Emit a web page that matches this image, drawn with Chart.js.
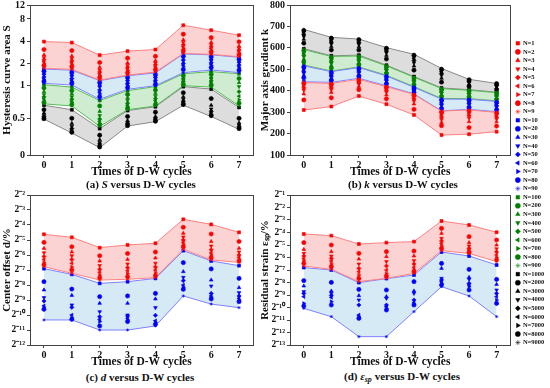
<!DOCTYPE html>
<html><head><meta charset="utf-8">
<script src="https://cdn.jsdelivr.net/npm/chart.js@4.4.0/dist/chart.umd.min.js"></script>
<style>
html,body{margin:0;padding:0;background:#fff;width:550px;height:388px;overflow:hidden;position:relative;font-family:'Liberation Serif','Times New Roman',serif;}
canvas{position:absolute;}
.cap{position:absolute;font-weight:bold;font-size:11px;white-space:nowrap;transform:translate(-50%,-50%);color:#111;line-height:12px}
.cap sub{font-size:8px;font-style:italic;vertical-align:-2px}
</style></head><body>
<canvas id="ca" width="258" height="179" style="left:0;top:0"></canvas>
<canvas id="cb" width="257" height="179" style="left:258px;top:0"></canvas>
<canvas id="cc" width="258" height="179" style="left:0;top:190px"></canvas>
<canvas id="cd" width="257" height="179" style="left:258px;top:190px"></canvas>
<canvas id="cl" width="100" height="320" style="left:514px;top:38px"></canvas>
<div class="cap" style="left:141px;top:184px">(a) <i>S</i> versus D-W cycles</div>
<div class="cap" style="left:403px;top:184px">(b) <i>k</i> versus D-W cycles</div>
<div class="cap" style="left:140px;top:377px">(c) <i>d</i> versus D-W cycles</div>
<div class="cap" style="left:402px;top:378px">(d) <i>ε</i><sub>sp</sub> versus D-W cycles</div>
<script>
// ---------- data ----------
const cycles = [0, 1, 2, 3, 4, 5, 6, 7];
const nLabels = ['N=1','N=2','N=3','N=4','N=5','N=6','N=7','N=8','N=9',
  'N=10','N=20','N=30','N=40','N=50','N=60','N=70','N=80','N=90',
  'N=100','N=200','N=300','N=400','N=500','N=600','N=700','N=800','N=900',
  'N=1000','N=2000','N=3000','N=4000','N=5000','N=6000','N=7000','N=8000','N=9000'];

// (a) hysteresis curve area S  (rows: series in group, columns: cycles 0..7)
const sRed = [
  [3.98,3.86,2.6,2.95,3.1,6.6,5.66,4.85],
  [3.1,3.0,2.06,2.36,2.51,5.0,4.5,3.96],
  [2.62,2.53,1.77,2.03,2.18,4.2,3.88,3.46],
  [2.41,2.33,1.63,1.88,2.03,3.87,3.6,3.23],
  [2.25,2.17,1.53,1.77,1.92,3.6,3.39,3.06],
  [2.13,2.05,1.45,1.68,1.83,3.4,3.2,2.92],
  [2.0,1.93,1.37,1.6,1.74,3.2,3.04,2.78],
  [1.87,1.81,1.29,1.5,1.65,2.99,2.87,2.64],
  [1.72,1.66,1.19,1.39,1.53,2.74,2.66,2.47]];
const sBlue = [
  [1.68,1.62,1.17,1.36,1.49,2.7,2.62,2.43],
  [1.57,1.5,1.09,1.28,1.4,2.5,2.45,2.27],
  [1.47,1.41,1.02,1.2,1.32,2.3,2.3,2.13],
  [1.39,1.33,0.97,1.14,1.25,2.15,2.18,2.02],
  [1.31,1.25,0.91,1.08,1.18,2.0,2.05,1.9],
  [1.26,1.19,0.87,1.04,1.13,1.9,1.96,1.82],
  [1.2,1.14,0.84,1.0,1.09,1.8,1.88,1.74],
  [1.14,1.08,0.79,0.96,1.04,1.65,1.76,1.62],
  [1.075,1.02,0.75,0.925,1.0,1.5,1.63,1.5]];
const sGreen = [
  [1.03,0.97,0.73,0.9,0.98,1.45,1.55,1.45],
  [0.95,0.9,0.65,0.83,0.91,1.36,1.42,1.25],
  [0.88,0.84,0.58,0.77,0.85,1.27,1.31,1.1],
  [0.83,0.79,0.53,0.73,0.8,1.2,1.23,0.98],
  [0.79,0.75,0.49,0.69,0.76,1.15,1.16,0.88],
  [0.76,0.72,0.46,0.66,0.73,1.1,1.1,0.8],
  [0.73,0.7,0.43,0.64,0.7,1.06,1.05,0.74],
  [0.7,0.67,0.41,0.62,0.67,1.03,1.01,0.69],
  [0.68,0.65,0.39,0.6,0.65,1.0,0.97,0.65]];
const sBlack = [
  [0.66,0.6,0.36,0.59,0.64,0.98,0.93,0.63],
  [0.6,0.5,0.27,0.52,0.57,0.86,0.76,0.5],
  [0.56,0.43,0.21,0.47,0.52,0.79,0.66,0.44],
  [0.53,0.39,0.17,0.44,0.5,0.75,0.61,0.41],
  [0.52,0.36,0.15,0.43,0.49,0.72,0.58,0.39],
  [0.51,0.34,0.13,0.42,0.48,0.7,0.56,0.38],
  [0.5,0.32,0.12,0.41,0.47,0.69,0.54,0.37],
  [0.495,0.31,0.11,0.4,0.46,0.67,0.53,0.36],
  [0.49,0.3,0.1,0.395,0.455,0.66,0.52,0.35]];
const sTickVals = [0, 0.5, 1, 2, 4, 8, 12];
const sAxisStops = [0, 1.65, 3.12, 4.12, 5.11, 6.12, 6.75];

// (b) major axis gradient k
const kRed = [
  [310,326,375,337,287,193,197,209],
  [357,367,405,362,313,237,228,235],
  [385,392,420,380,338,252,255,255],
  [402,405,430,393,352,265,272,268],
  [413,414,437,402,362,277,284,277],
  [421,420,442,408,369,286,292,284],
  [428,426,446,413,375,293,299,290],
  [434,430,450,416,379,299,305,295],
  [438,434,453,419,383,305,310,299]];
const kBlue = [
  [442,439,458,423,385,306,313,302],
  [460,449,468,432,391,316,322,311],
  [472,457,476,439,396,324,329,318],
  [481,463,482,445,400,331,335,324],
  [489,469,488,450,404,338,341,330],
  [496,474,493,455,407,344,346,335],
  [503,479,498,460,410,350,351,340],
  [510,484,503,465,413,356,356,345],
  [516,489,508,469,416,361,360,350]];
const kGreen = [
  [520,492,511,472,419,364,363,353],
  [535,506,522,481,428,373,371,360],
  [548,518,530,488,435,381,377,366],
  [558,527,537,494,441,387,382,371],
  [566,535,543,499,446,393,387,376],
  [573,541,548,504,451,398,391,380],
  [580,547,553,508,455,402,395,384],
  [586,554,558,512,459,406,399,388],
  [592,560,562,516,463,410,402,391]];
const kBlack = [
  [596,563,566,519,466,413,405,393],
  [622,590,590,548,496,440,420,405],
  [640,606,605,565,515,458,430,413],
  [652,618,616,577,530,471,437,419],
  [662,627,624,585,542,481,442,424],
  [670,634,630,591,552,489,446,428],
  [676,640,635,595,559,495,449,431],
  [681,645,638,598,565,500,451,433],
  [686,649,641,601,570,504,453,434]];

// (c) center offset d  (log2 exponents)
const dRed = [
  [-4.62,-4.82,-5.51,-5.33,-5.22,-3.62,-3.96,-4.49],
  [-5.16,-5.45,-6.05,-5.9,-5.8,-4.15,-4.6,-5.1],
  [-5.56,-5.8,-6.4,-6.3,-6.2,-4.55,-5.1,-5.55],
  [-5.85,-6.05,-6.7,-6.6,-6.55,-4.8,-5.4,-5.8],
  [-6.1,-6.3,-6.95,-6.85,-6.8,-5.0,-5.65,-6.0],
  [-6.3,-6.55,-7.15,-7.05,-7.0,-5.15,-5.85,-6.15],
  [-6.5,-6.8,-7.35,-7.25,-7.2,-5.3,-6.0,-6.28],
  [-6.65,-7.0,-7.52,-7.45,-7.38,-5.45,-6.18,-6.4],
  [-6.78,-7.22,-7.67,-7.62,-7.51,-5.62,-6.33,-6.49]];
const dBlue = [
  [-6.91,-7.29,-7.89,-7.78,-7.56,-5.71,-6.4,-6.71],
  [-7.78,-8.27,-8.78,-8.73,-8.56,-6.51,-6.93,-7.56],
  [-8.33,-8.69,-9.22,-9.22,-8.93,-7.11,-7.67,-8.18],
  [-8.84,-9.33,-9.78,-10.0,-9.51,-7.49,-8.07,-8.51],
  [-9.07,-9.49,-10.11,-10.07,-10.02,-7.71,-8.56,-8.73],
  [-9.38,-10.0,-10.29,-10.22,-10.38,-8.0,-8.73,-8.89],
  [-9.49,-10.18,-10.44,-10.33,-10.49,-8.16,-8.82,-9.0],
  [-9.62,-10.29,-10.73,-10.44,-10.62,-8.29,-8.93,-9.11],
  [-10.33,-10.33,-11.0,-11.0,-10.73,-8.73,-9.27,-9.51]];

// (d) residual strain eps_sp  (log2 exponents)
const eRed = [
  [-4.12,-4.25,-4.92,-4.81,-4.73,-3.08,-3.4,-3.98],
  [-4.81,-5.0,-5.67,-5.53,-5.48,-3.67,-4.33,-4.6],
  [-5.35,-5.53,-6.12,-5.93,-5.88,-4.07,-4.81,-5.0],
  [-5.67,-5.88,-6.52,-6.33,-6.25,-4.47,-5.08,-5.3],
  [-5.88,-6.07,-6.87,-6.68,-6.52,-4.68,-5.27,-5.55],
  [-6.07,-6.28,-7.13,-7.0,-6.79,-4.87,-5.4,-5.8],
  [-6.25,-6.52,-7.4,-7.27,-7.0,-5.08,-5.51,-6.0],
  [-6.47,-6.73,-7.67,-7.48,-7.13,-5.27,-5.59,-6.18],
  [-6.68,-6.95,-7.93,-7.67,-7.27,-5.45,-5.67,-6.33]];
const eBlue = [
  [-6.81,-7.0,-8.01,-7.69,-7.4,-5.56,-5.88,-6.6],
  [-7.85,-7.99,-8.55,-8.6,-7.93,-6.47,-6.95,-7.75],
  [-8.28,-8.68,-9.05,-9.13,-8.68,-6.87,-7.59,-8.15],
  [-8.73,-8.87,-9.4,-9.27,-8.87,-7.67,-7.75,-8.6],
  [-8.87,-9.03,-9.8,-9.8,-9.4,-7.8,-8.07,-8.87],
  [-9.13,-9.19,-10.6,-9.93,-9.61,-7.93,-8.2,-9.13],
  [-9.67,-9.53,-10.73,-10.07,-9.72,-8.07,-8.33,-9.4],
  [-9.88,-9.8,-10.87,-10.2,-9.8,-8.2,-8.6,-9.67],
  [-10.07,-10.73,-12.33,-12.33,-10.33,-8.33,-9.08,-10.73]];

// ---------- styling ----------
const groupColors = ['#ff0000', '#0000ff', '#008000', '#000000'];
const lineColors = ['#ff8080', '#8080ff', '#55bb55', '#888888'];
const fillColors = ['#fcd3d3', '#d6eaf6', '#d0ecd0', '#dddddd'];
const markerStyles = ['rect','circle','triangle','triangle','rectRot','triangle','triangle','circle','star'];
const markerRot = [0, 0, 0, 180, 0, 270, 90, 0, 0];

Chart.defaults.font.family = "'Liberation Serif','Times New Roman',serif";
Chart.defaults.font.weight = 'bold';
Chart.defaults.color = '#111';

function sToAxis(v) {
  for (let i = 0; i < sTickVals.length - 1; i++) {
    const a = sTickVals[i], b = sTickVals[i + 1];
    if (v <= b || i === sTickVals.length - 2) {
      const t = i === 0 ? (v - a) / (b - a) : (Math.log2(v) - Math.log2(a)) / (Math.log2(b) - Math.log2(a));
      return sAxisStops[i] + t * (sAxisStops[i + 1] - sAxisStops[i]);
    }
  }
}
const ident = v => v;

function groupDatasets(rows, g, toAxis) {
  return rows.map((row, j) => ({
    label: nLabels[g * 9 + j],
    data: row.map((v, i) => ({ x: cycles[i], y: toAxis(v) })),
    showLine: j === 0 || j === 8,
    borderColor: lineColors[g], borderWidth: 1,
    fill: j === 0 ? '+8' : false,
    backgroundColor: fillColors[g],
    pointStyle: markerStyles[j], pointRotation: markerRot[j],
    pointRadius: j === 8 ? 1.6 : 2.1,
    pointBackgroundColor: groupColors[g], pointBorderColor: groupColors[g], pointBorderWidth: 0.6,
    tension: 0
  }));
}

const framePlugin = {
  id: 'frame',
  afterDatasetsDraw(chart) {
    const { ctx, chartArea: a } = chart;
    ctx.save(); ctx.strokeStyle = '#444'; ctx.lineWidth = 1;
    ctx.strokeRect(Math.round(a.left) + 0.5, Math.round(a.top) + 0.5, Math.round(a.right - a.left), Math.round(a.bottom - a.top));
    ctx.restore();
  }
};

// tick labels of the non-uniform S axis, placed through the y scale
const sLabelPlugin = {
  id: 'sLabels',
  afterDraw(chart) {
    const { ctx } = chart, y = chart.scales.y;
    ctx.save();
    ctx.font = "bold 10px 'Liberation Serif','Times New Roman',serif";
    ctx.fillStyle = '#111'; ctx.textAlign = 'right'; ctx.textBaseline = 'middle';
    sAxisStops.forEach((p, i) => ctx.fillText(String(sTickVals[i]), y.right - 5, y.getPixelForValue(p)));
    ctx.restore();
  }
};

const sup = { '-': '\u207B', '0': '\u2070', '1': '\u00B9', '2': '\u00B2', '3': '\u00B3', '4': '\u2074', '5': '\u2075', '6': '\u2076', '7': '\u2077', '8': '\u2078', '9': '\u2079' };
const pow2Label = v => '2' + String(v).split('').map(c => sup[c]).join('');

function xScale() {
  return {
    type: 'linear', min: -0.5, max: 7.5,
    afterBuildTicks: s => { s.ticks = cycles.map(v => ({ value: v })); },
    afterFit: s => { s.height = 24; s.paddingLeft = 0; s.paddingRight = 0; },
    ticks: { autoSkip: false, maxRotation: 0, padding: 1, font: { size: 10, weight: 'bold' }, callback: v => String(v) },
    grid: { drawOnChartArea: false, tickLength: 3, color: '#444' },
    border: { color: '#444' },
    title: { display: true, text: 'Times of D-W cycles', font: { size: 11.5, weight: 'bold' }, padding: { top: 0, bottom: 0 } }
  };
}
function yScale(extra, title, width, tickSize) {
  return Object.assign({
    afterFit: s => { s.width = width; s.paddingTop = 0; s.paddingBottom = 0; },
    grid: { drawOnChartArea: false, tickLength: 3, color: '#444' },
    border: { color: '#444' },
    title: { display: true, text: title, font: { size: 11, weight: 'bold' }, padding: { top: 1, bottom: 0 } }
  }, extra, { ticks: Object.assign({ autoSkip: false, padding: 2, font: { size: tickSize, weight: 'bold' } }, extra.ticks || {}) });
}

function makeChart(id, datasets, y, rightPad, extraPlugins) {
  return new Chart(document.getElementById(id), {
    type: 'line',
    data: { datasets },
    options: {
      responsive: false, animation: false, events: [],
      layout: { padding: { top: 5, right: rightPad, left: 0, bottom: 0 } },
      scales: { x: xScale(), y },
      plugins: { legend: { display: false }, tooltip: { enabled: false }, filler: { drawTime: 'beforeDatasetsDraw' } }
    },
    plugins: [framePlugin].concat(extraPlugins || [])
  });
}

makeChart('ca', [
  ...groupDatasets(sRed, 0, sToAxis), ...groupDatasets(sBlue, 1, sToAxis),
  ...groupDatasets(sGreen, 2, sToAxis), ...groupDatasets(sBlack, 3, sToAxis)],
  yScale({ type: 'linear', min: 0, max: sAxisStops[sAxisStops.length - 1],
    afterBuildTicks: s => { s.ticks = sAxisStops.map(v => ({ value: v })); },
    ticks: { callback: () => '' } }, 'Hysteresis curve area S', 30, 10), 5, [sLabelPlugin]);

makeChart('cb', [
  ...groupDatasets(kRed, 0, ident), ...groupDatasets(kBlue, 1, ident),
  ...groupDatasets(kGreen, 2, ident), ...groupDatasets(kBlack, 3, ident)],
  yScale({ type: 'linear', min: 100, max: 800, ticks: { stepSize: 100 } }, 'Major axis gradient k', 32, 10), 2);

makeChart('cc', [...groupDatasets(dRed, 0, ident), ...groupDatasets(dBlue, 1, ident)],
  yScale({ type: 'linear', min: -12, max: -2, ticks: { stepSize: 1, callback: v => pow2Label(v) } }, 'Center offset d/%', 30, 9.5), 5);

makeChart('cd', [...groupDatasets(eRed, 0, ident), ...groupDatasets(eBlue, 1, ident)],
  yScale({ type: 'linear', min: -13, max: -1, ticks: { stepSize: 1, callback: v => pow2Label(v) } }, 'Residual strain \u03B5\u209B\u209A/%', 32, 9.5), 2);

// shared legend
new Chart(document.getElementById('cl'), {
  type: 'line',
  data: { datasets: nLabels.map((l, k) => ({
    label: l, data: [],
    pointStyle: markerStyles[k % 9], pointRotation: markerRot[k % 9],
    pointBackgroundColor: groupColors[Math.floor(k / 9)], pointBorderColor: groupColors[Math.floor(k / 9)],
    borderColor: groupColors[Math.floor(k / 9)], backgroundColor: groupColors[Math.floor(k / 9)], pointBorderWidth: 0.5
  })) },
  options: {
    responsive: false, animation: false, events: [],
    scales: { x: { display: false }, y: { display: false } },
    plugins: {
      tooltip: { enabled: false },
      legend: { position: 'left', align: 'start',
        labels: { usePointStyle: true, boxWidth: 3.6, boxHeight: 3.6, padding: 2.05, color: '#111', font: { size: 6.5, weight: 'bold' } } }
    }
  }
});
</script>
</body></html>
